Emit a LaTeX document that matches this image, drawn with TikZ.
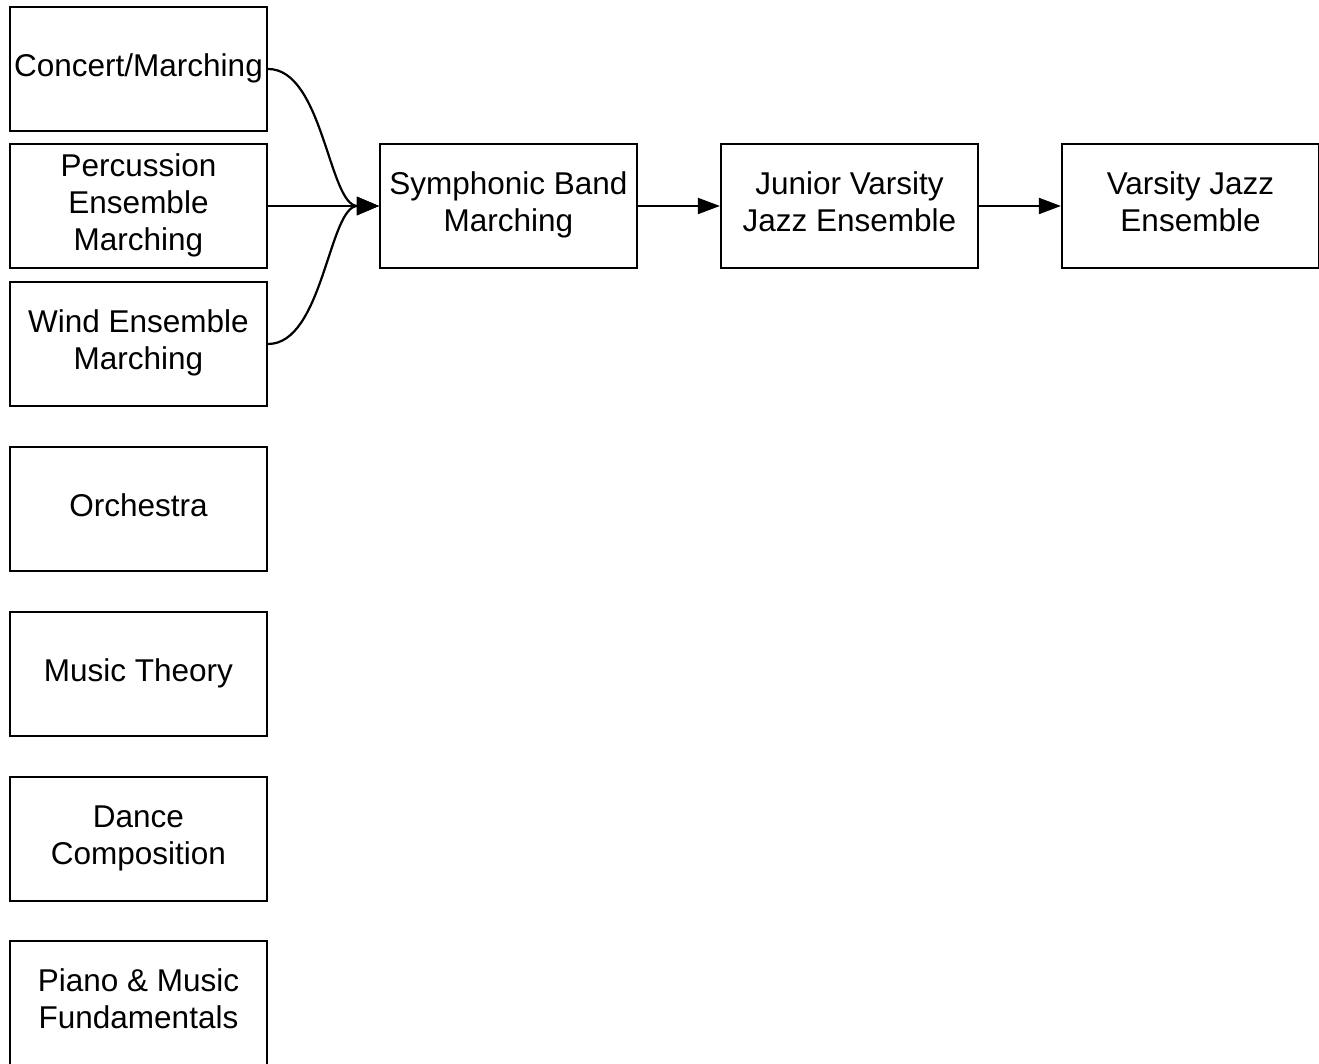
\documentclass[tikz,border=0pt]{standalone}
\usepackage{fontspec}
\setmainfont{Liberation Sans}
\usetikzlibrary{arrows.meta}
\begin{document}
\begin{tikzpicture}[x=1pt,y=1pt,
  box/.style={draw=black, line width=2.2pt, minimum width=257pt, minimum height=124pt,
    inner sep=0pt, align=center, font=\fontsize{31.5}{37}\selectfont},
  link/.style={line width=2.2pt, -{Triangle[length=22pt,width=18pt]}},
  smalllink/.style={line width=2pt, -{Triangle[length=22pt,width=16pt]}}]
\useasboundingbox (0,0) rectangle (1319,1063);
\clip (0,0) rectangle (1319,1063);
\node[box] (concert) at (138.5,994) {\strut Concert/Marching};
\node[box] (perc) at (138.5,857) {\strut Percussion\\\strut Ensemble\\\strut Marching};
\node[box] (wind) at (138.5,719) {\strut Wind Ensemble\\\strut Marching};
\node[box] (orch) at (138.5,554) {\strut Orchestra};
\node[box] (theory) at (138.5,389) {\strut Music Theory};
\node[box] (dance) at (138.5,224) {\strut Dance\\\strut Composition};
\node[box] (piano) at (138.5,60) {\strut Piano \& Music\\\strut Fundamentals};
\node[box] (symph) at (508.5,857) {\strut Symphonic Band\\\strut Marching};
\node[box] (jv) at (849.5,857) {\strut Junior Varsity\\\strut Jazz Ensemble};
\node[box] (varsity) at (1190.5,857) {\strut Varsity Jazz\\\strut Ensemble};
\draw[link] (concert.east) .. controls +(55,0) and +(-50,0) .. (symph.west);
\draw[link] (perc.east) -- (symph.west);
\draw[link] (wind.east) .. controls +(55,0) and +(-50,0) .. (symph.west);
\draw[smalllink] (symph.east) -- (jv.west);
\draw[smalllink] (jv.east) -- (varsity.west);
\end{tikzpicture}
\end{document}
